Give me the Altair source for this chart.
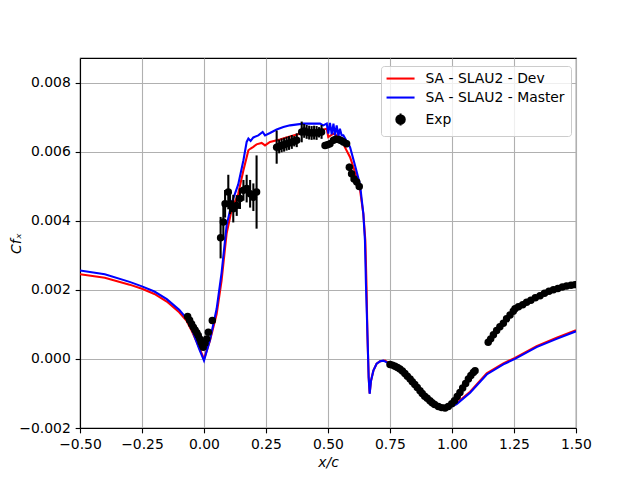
import altair as alt
import pandas as pd

SERIES = ["SA - SLAU2 - Dev", "SA - SLAU2 - Master", "Exp"]
COLORS = ["#ff0000", "#0000ff", "#000000"]
# legend glyphs, in units of sqrt(symbolSize)/2 = 5 px
LINE_SHAPE = "M-2.8,0L2.8,0"
EXP_SHAPE = "M-0.84,0A0.84,0.84,0,1,0,0.84,0A0.84,0.84,0,1,0,-0.84,0ZM0,-1.2L0,1.2"

X_TICKS = [-0.5, -0.25, 0.0, 0.25, 0.5, 0.75, 1.0, 1.25, 1.5]
Y_TICKS = [-0.002, 0.0, 0.002, 0.004, 0.006, 0.008]

# SA - SLAU2 - Dev  (y in 1e-3)
DEV_X = [-0.5, -0.4, -0.3, -0.25, -0.2, -0.15, -0.1, -0.07, -0.05, -0.02, 0.0,
         0.024, 0.051, 0.071, 0.091, 0.111, 0.138, 0.159, 0.179, 0.188, 0.199,
         0.212, 0.2325, 0.246, 0.266, 0.306, 0.36, 0.414, 0.468, 0.495, 0.501,
         0.5215, 0.548, 0.568, 0.589, 0.609, 0.629, 0.6425, 0.6505, 0.655, 0.659,
         0.664, 0.668, 0.6735, 0.683, 0.696, 0.71, 0.73, 0.753, 0.804, 0.871,
         0.911, 0.938, 0.965, 0.992, 1.019, 1.073, 1.14, 1.207, 1.254, 1.341,
         1.422, 1.5]
DEV_Y = [2.45, 2.35, 2.15, 2.03, 1.88, 1.66, 1.35, 1.10, 0.82, 0.34, 0.0,
         0.53, 1.30, 2.27, 3.62, 4.30, 4.78, 5.46, 6.04, 6.09, 6.14,
         6.21, 6.25, 6.18, 6.28, 6.35, 6.47, 6.57, 6.62, 6.66, 6.42,
         6.52, 6.42, 6.13, 5.84, 5.41, 4.90, 4.20, 3.43, 2.20, 0.70,
         -0.54, -1.00, -0.63, -0.34, -0.14, -0.07, -0.05, -0.16, -0.39, -0.97,
         -1.24, -1.35, -1.39, -1.37, -1.28, -0.95, -0.42, -0.13, 0.03, 0.37,
         0.61, 0.83]

# SA - SLAU2 - Master  (y in 1e-3)
MASTER_X = [-0.5, -0.4, -0.3, -0.25, -0.2, -0.15, -0.1, -0.07, -0.05, -0.02, 0.0,
            0.024, 0.051, 0.071, 0.091, 0.111, 0.138, 0.159, 0.172, 0.179, 0.188,
            0.199, 0.219, 0.2366, 0.246, 0.266, 0.293, 0.32, 0.347, 0.4, 0.468,
            0.481, 0.495, 0.501, 0.508, 0.515, 0.522, 0.528, 0.535, 0.542, 0.548,
            0.555, 0.562, 0.589, 0.609, 0.629, 0.6425, 0.649, 0.653, 0.659, 0.664,
            0.668, 0.6735, 0.683, 0.696, 0.71, 0.723, 0.753, 0.804, 0.871, 0.911,
            0.938, 0.965, 0.992, 1.019, 1.073, 1.14, 1.207, 1.254, 1.341, 1.422, 1.5]
MASTER_Y = [2.56, 2.45, 2.23, 2.10, 1.95, 1.73, 1.42, 1.17, 0.88, 0.30, -0.05,
            0.55, 1.45, 2.50, 3.85, 4.50, 5.05, 5.75, 6.28, 6.38, 6.31,
            6.41, 6.47, 6.57, 6.47, 6.54, 6.64, 6.71, 6.76, 6.81, 6.81,
            6.76, 6.81, 6.52, 6.83, 6.50, 6.81, 6.47, 6.76, 6.44, 6.66,
            6.47, 6.47, 6.13, 5.60, 5.05, 4.20, 3.43, 2.17, 0.72, -0.54,
            -1.01, -0.63, -0.34, -0.14, -0.07, -0.05, -0.16, -0.40, -0.98, -1.27,
            -1.38, -1.43, -1.40, -1.31, -0.98, -0.45, -0.16, 0.0, 0.34, 0.58, 0.80]

# Exp  (y and err in 1e-3)
EXP_X = [-0.066, -0.058, -0.050, -0.043, -0.036, -0.029, -0.023, -0.017, -0.012,
         -0.007, -0.003, 0.004, 0.011, 0.0175, 0.0335,
         0.067, 0.078, 0.085, 0.098, 0.105, 0.118, 0.132, 0.145, 0.159, 0.172,
         0.186, 0.199, 0.212,
         0.293, 0.303, 0.313, 0.323, 0.333, 0.343, 0.354, 0.364, 0.374,
         0.394, 0.404, 0.414, 0.424, 0.434, 0.444, 0.454, 0.464, 0.474,
         0.488, 0.498, 0.508, 0.522, 0.532, 0.542, 0.552, 0.562, 0.575,
         0.586, 0.595, 0.605, 0.616, 0.626,
         0.750, 0.760, 0.770, 0.780, 0.790, 0.800, 0.810, 0.820, 0.831, 0.840,
         0.850, 0.860, 0.871, 0.880, 0.890, 0.900, 0.911, 0.920, 0.930, 0.945,
         0.958, 0.972, 0.985, 0.999, 1.010, 1.021, 1.032, 1.043, 1.055, 1.066,
         1.076, 1.086, 1.093,
         1.146, 1.156, 1.167, 1.180, 1.193, 1.207, 1.220, 1.234, 1.247, 1.254,
         1.268, 1.285, 1.301, 1.318, 1.336, 1.355, 1.373, 1.391, 1.409, 1.427,
         1.445, 1.462, 1.480, 1.496]
EXP_Y = [1.23, 1.12, 1.01, 0.92, 0.84, 0.76, 0.68, 0.58, 0.48,
         0.40, 0.34, 0.45, 0.58, 0.77, 1.11,
         3.51, 3.96, 4.49, 4.83, 4.49, 4.35, 4.44, 4.64, 4.88, 4.93,
         4.78, 4.68, 4.83,
         6.13, 6.15, 6.18, 6.20, 6.23, 6.25, 6.28, 6.30, 6.33,
         6.57, 6.60, 6.57, 6.55, 6.54, 6.55, 6.54, 6.56, 6.57,
         6.18, 6.20, 6.23, 6.33, 6.36, 6.35, 6.32, 6.28, 6.23,
         5.55, 5.36, 5.21, 5.12, 4.99,
         -0.16, -0.18, -0.21, -0.25, -0.29, -0.35, -0.42, -0.50, -0.58, -0.66,
         -0.74, -0.83, -0.92, -1.00, -1.08, -1.14, -1.21, -1.27, -1.32, -1.38,
         -1.41, -1.42, -1.38, -1.30, -1.21, -1.09, -0.97, -0.84, -0.71, -0.58,
         -0.48, -0.39, -0.34,
         0.48, 0.58, 0.70, 0.82, 0.93, 1.03, 1.16, 1.27, 1.38, 1.45,
         1.51, 1.57, 1.64, 1.70, 1.77, 1.83, 1.90, 1.96, 2.00, 2.04,
         2.08, 2.11, 2.13, 2.15]
EXP_ERR = [0.0] * 15 + [
    0.6, 0.5, 0.4, 0.5, 0.3, 0.4, 0.3, 0.3, 0.3, 0.4, 0.4, 0.4, 1.06,
    0.48, 0.2, 0.2, 0.2, 0.2, 0.2, 0.2, 0.15, 0.2,
    0.3, 0.2, 0.2, 0.2, 0.2, 0.2, 0.2, 0.15, 0.2,
    0.1, 0.1, 0.1, 0.1, 0.1, 0.1, 0.1, 0.1, 0.1,
    0.1, 0.1, 0.1, 0.1, 0.1] + [0.0] * 57

dev = pd.DataFrame({"x": DEV_X, "y": [v * 1e-3 for v in DEV_Y], "series": SERIES[0]})
master = pd.DataFrame({"x": MASTER_X, "y": [v * 1e-3 for v in MASTER_Y], "series": SERIES[1]})
exp = pd.DataFrame({
    "x": EXP_X,
    "y": [v * 1e-3 for v in EXP_Y],
    "lo": [(v - e) * 1e-3 for v, e in zip(EXP_Y, EXP_ERR)],
    "hi": [(v + e) * 1e-3 for v, e in zip(EXP_Y, EXP_ERR)],
    "series": SERIES[2],
})
legend_df = pd.DataFrame({"series": SERIES})

FONT = "DejaVu Sans"
FS = 13.9
LW = 2.08     # 1.5 pt
THIN = 1.11   # 0.8 pt

xscale = alt.Scale(domain=[-0.5, 1.5], nice=False, zero=False)
yscale = alt.Scale(domain=[-0.002, 0.00871], nice=False, zero=False)

xaxis = alt.Axis(values=X_TICKS, format=".2f", title="x/c", labelFlush=False,
                 labelOverlap=False, titlePadding=4)
yaxis = alt.Axis(values=Y_TICKS, format=".3f", title="Cfₓ", labelFlush=False,
                 labelOverlap=False, titlePadding=-5)

legend = alt.Legend(
    title=None, orient="none", legendX=301, legendY=8,
    symbolSize=100, symbolOffset=7, labelOffset=18,
    labelFont=FONT, labelFontSize=FS, labelColor="black",
    fillColor="rgba(255,255,255,0.8)", strokeColor="#cccccc", cornerRadius=3,
    padding=5.6, rowPadding=4, symbolStrokeWidth=LW, symbolOpacity=1,
)
cscale = alt.Scale(domain=SERIES, range=COLORS)
stroke = alt.Stroke("series:N", scale=cscale, legend=legend)
fill = alt.Fill("series:N", scale=cscale, legend=legend)
shape = alt.Shape("series:N", scale=alt.Scale(domain=SERIES, range=[LINE_SHAPE, LINE_SHAPE, EXP_SHAPE]),
                  legend=legend)

x_enc = alt.X("x:Q", scale=xscale, axis=xaxis)
y_enc = alt.Y("y:Q", scale=yscale, axis=yaxis)

dev_line = alt.Chart(dev).mark_line(strokeWidth=LW, clip=True).encode(x=x_enc, y=y_enc, stroke=stroke)
master_line = alt.Chart(master).mark_line(strokeWidth=LW, clip=True).encode(x=x_enc, y=y_enc, stroke=stroke)
err = alt.Chart(exp).mark_rule(strokeWidth=LW, color="black", clip=True).encode(
    x="x:Q", y="lo:Q", y2="hi:Q")
pts = alt.Chart(exp).mark_circle(size=56, opacity=1, clip=True).encode(x="x:Q", y="y:Q", fill=fill)
leg = alt.Chart(legend_df).mark_point(filled=True, strokeWidth=LW, clip=True).encode(
    x=alt.value(-60), y=alt.value(-60), fill=fill, stroke=stroke, shape=shape)

chart = alt.layer(dev_line, master_line, err, pts, leg).properties(
    width=496, height=370,
    autosize=alt.AutoSizeParams(type="none"),
    padding={"left": 72, "top": 50, "right": 56, "bottom": 42},
).configure_view(stroke="black", strokeWidth=THIN).configure_axis(
    grid=True, gridColor="#b0b0b0", gridWidth=THIN, gridOpacity=1,
    domainColor="black", domainWidth=THIN, tickColor="black", tickWidth=THIN,
    tickSize=4.86, labelFont=FONT, labelFontSize=FS, labelColor="black",
    labelPadding=4.86, titleFont=FONT, titleFontSize=FS, titleFontWeight="normal",
    titleFontStyle="italic", titleColor="black",
)

chart.save("out.html", embed_options={"renderer": "svg", "actions": False})
